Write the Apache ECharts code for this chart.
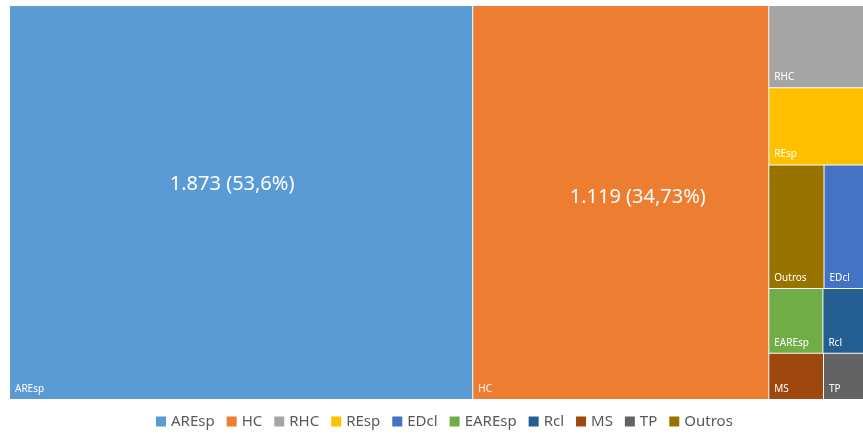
<!DOCTYPE html>
<html>
<head>
    <meta charset="utf-8">
    <title>ECharts</title>
    <script src="https://cdn.jsdelivr.net/npm/echarts@6/dist/echarts.min.js"></script>
</head>
<body style="margin:0;">
<div id="main" style="width: 863px;height:436px;"></div>
<script type="text/javascript">
    // categories, values and colours
    var names = ['AREsp', 'HC', 'RHC', 'REsp', 'EDcl', 'EAREsp', 'Rcl', 'MS', 'TP', 'Outros'];
    var values = [1873, 1197, 80, 75, 50, 36, 27, 26, 19, 70];
    var colors = ['#5B9BD5', '#ED7D31', '#A5A5A5', '#FFC000', '#4472C4', '#70AD47', '#255E91', '#9E480E', '#636363', '#997300'];
    // big value labels shown on the two largest blocks
    var valueLabels = {'AREsp': '1.873 (53,6%)', 'HC': '1.119 (34,73%)'};
    // groups that give the same block arrangement as the picture
    var leftGroup = ['AREsp', 'HC'];
    var rightGroup = ['RHC', 'REsp', 'Outros', 'EDcl', 'EAREsp', 'Rcl', 'MS', 'TP'];

    var labelOffset = {'AREsp': [-9, -18], 'HC': [17, -5]};

    function leaf(name, overlay) {
        var i = names.indexOf(name);
        var item = {name: name, value: values[i], itemStyle: {color: overlay ? 'rgba(0,0,0,0)' : colors[i]}};
        if (overlay) {
            item.label = {
                show: !!valueLabels[name],
                position: 'inside',
                offset: labelOffset[name] || [0, 0],
                formatter: valueLabels[name] || ''
            };
        }
        return item;
    }

    function buildTree(overlay) {
        var groups = [leftGroup, rightGroup];
        var data = [];
        for (var g = 0; g < groups.length; g++) {
            var children = [];
            var sum = 0;
            for (var k = 0; k < groups[g].length; k++) {
                var c = leaf(groups[g][k], overlay);
                sum += c.value;
                children.push(c);
            }
            data.push({name: 'g' + g, value: sum, children: children});
        }
        return data;
    }

    function treemapSeries(overlay) {
        return {
            type: 'treemap',
            left: 10,
            top: 6,
            right: 0,
            bottom: 37,
            roam: false,
            nodeClick: false,
            silent: overlay,
            animation: false,
            breadcrumb: {show: false},
            visibleMin: 0,
            squareRatio: 0.5 * (1 + Math.sqrt(5)),
            label: overlay ? {
                show: true,
                color: '#ffffff',
                fontSize: 20,
                fontFamily: 'Noto Sans'
            } : {
                show: true,
                position: 'insideBottomLeft',
                distance: 0,
                color: '#ffffff',
                fontSize: 10,
                fontFamily: 'Noto Sans',
                formatter: '{b}'
            },
            upperLabel: {show: false},
            itemStyle: {
                borderWidth: 0,
                gapWidth: 1,
                borderColor: overlay ? 'rgba(0,0,0,0)' : '#ffffff'
            },
            levels: [
                {itemStyle: {borderWidth: 0, gapWidth: 1}},
                {itemStyle: {borderWidth: 0, gapWidth: 1}, upperLabel: {show: false}},
                {itemStyle: {borderWidth: 0, gapWidth: 0}}
            ],
            data: buildTree(overlay)
        };
    }

    // empty pie only used to feed the legend
    var legendItems = [];
    for (var i = 0; i < names.length; i++) {
        legendItems.push({name: names[i], value: 0, itemStyle: {color: colors[i]}});
    }

    var option = {
        backgroundColor: '#ffffff',
        legend: {
            data: names,
            bottom: 2,
            left: 151,
            icon: 'rect',
            itemWidth: 10,
            itemHeight: 10,
            itemGap: 12,
            selectedMode: false,
            textStyle: {color: '#595959', fontSize: 15, fontFamily: 'Noto Sans'}
        },
        series: [
            treemapSeries(false),
            treemapSeries(true),
            {
                type: 'pie',
                radius: [0, 0],
                stillShowZeroSum: false,
                silent: true,
                label: {show: false},
                labelLine: {show: false},
                data: legendItems
            }
        ]
    };

    var myChart = echarts.init(document.getElementById('main'));
    myChart.setOption(option);
</script>
</body>
</html>
